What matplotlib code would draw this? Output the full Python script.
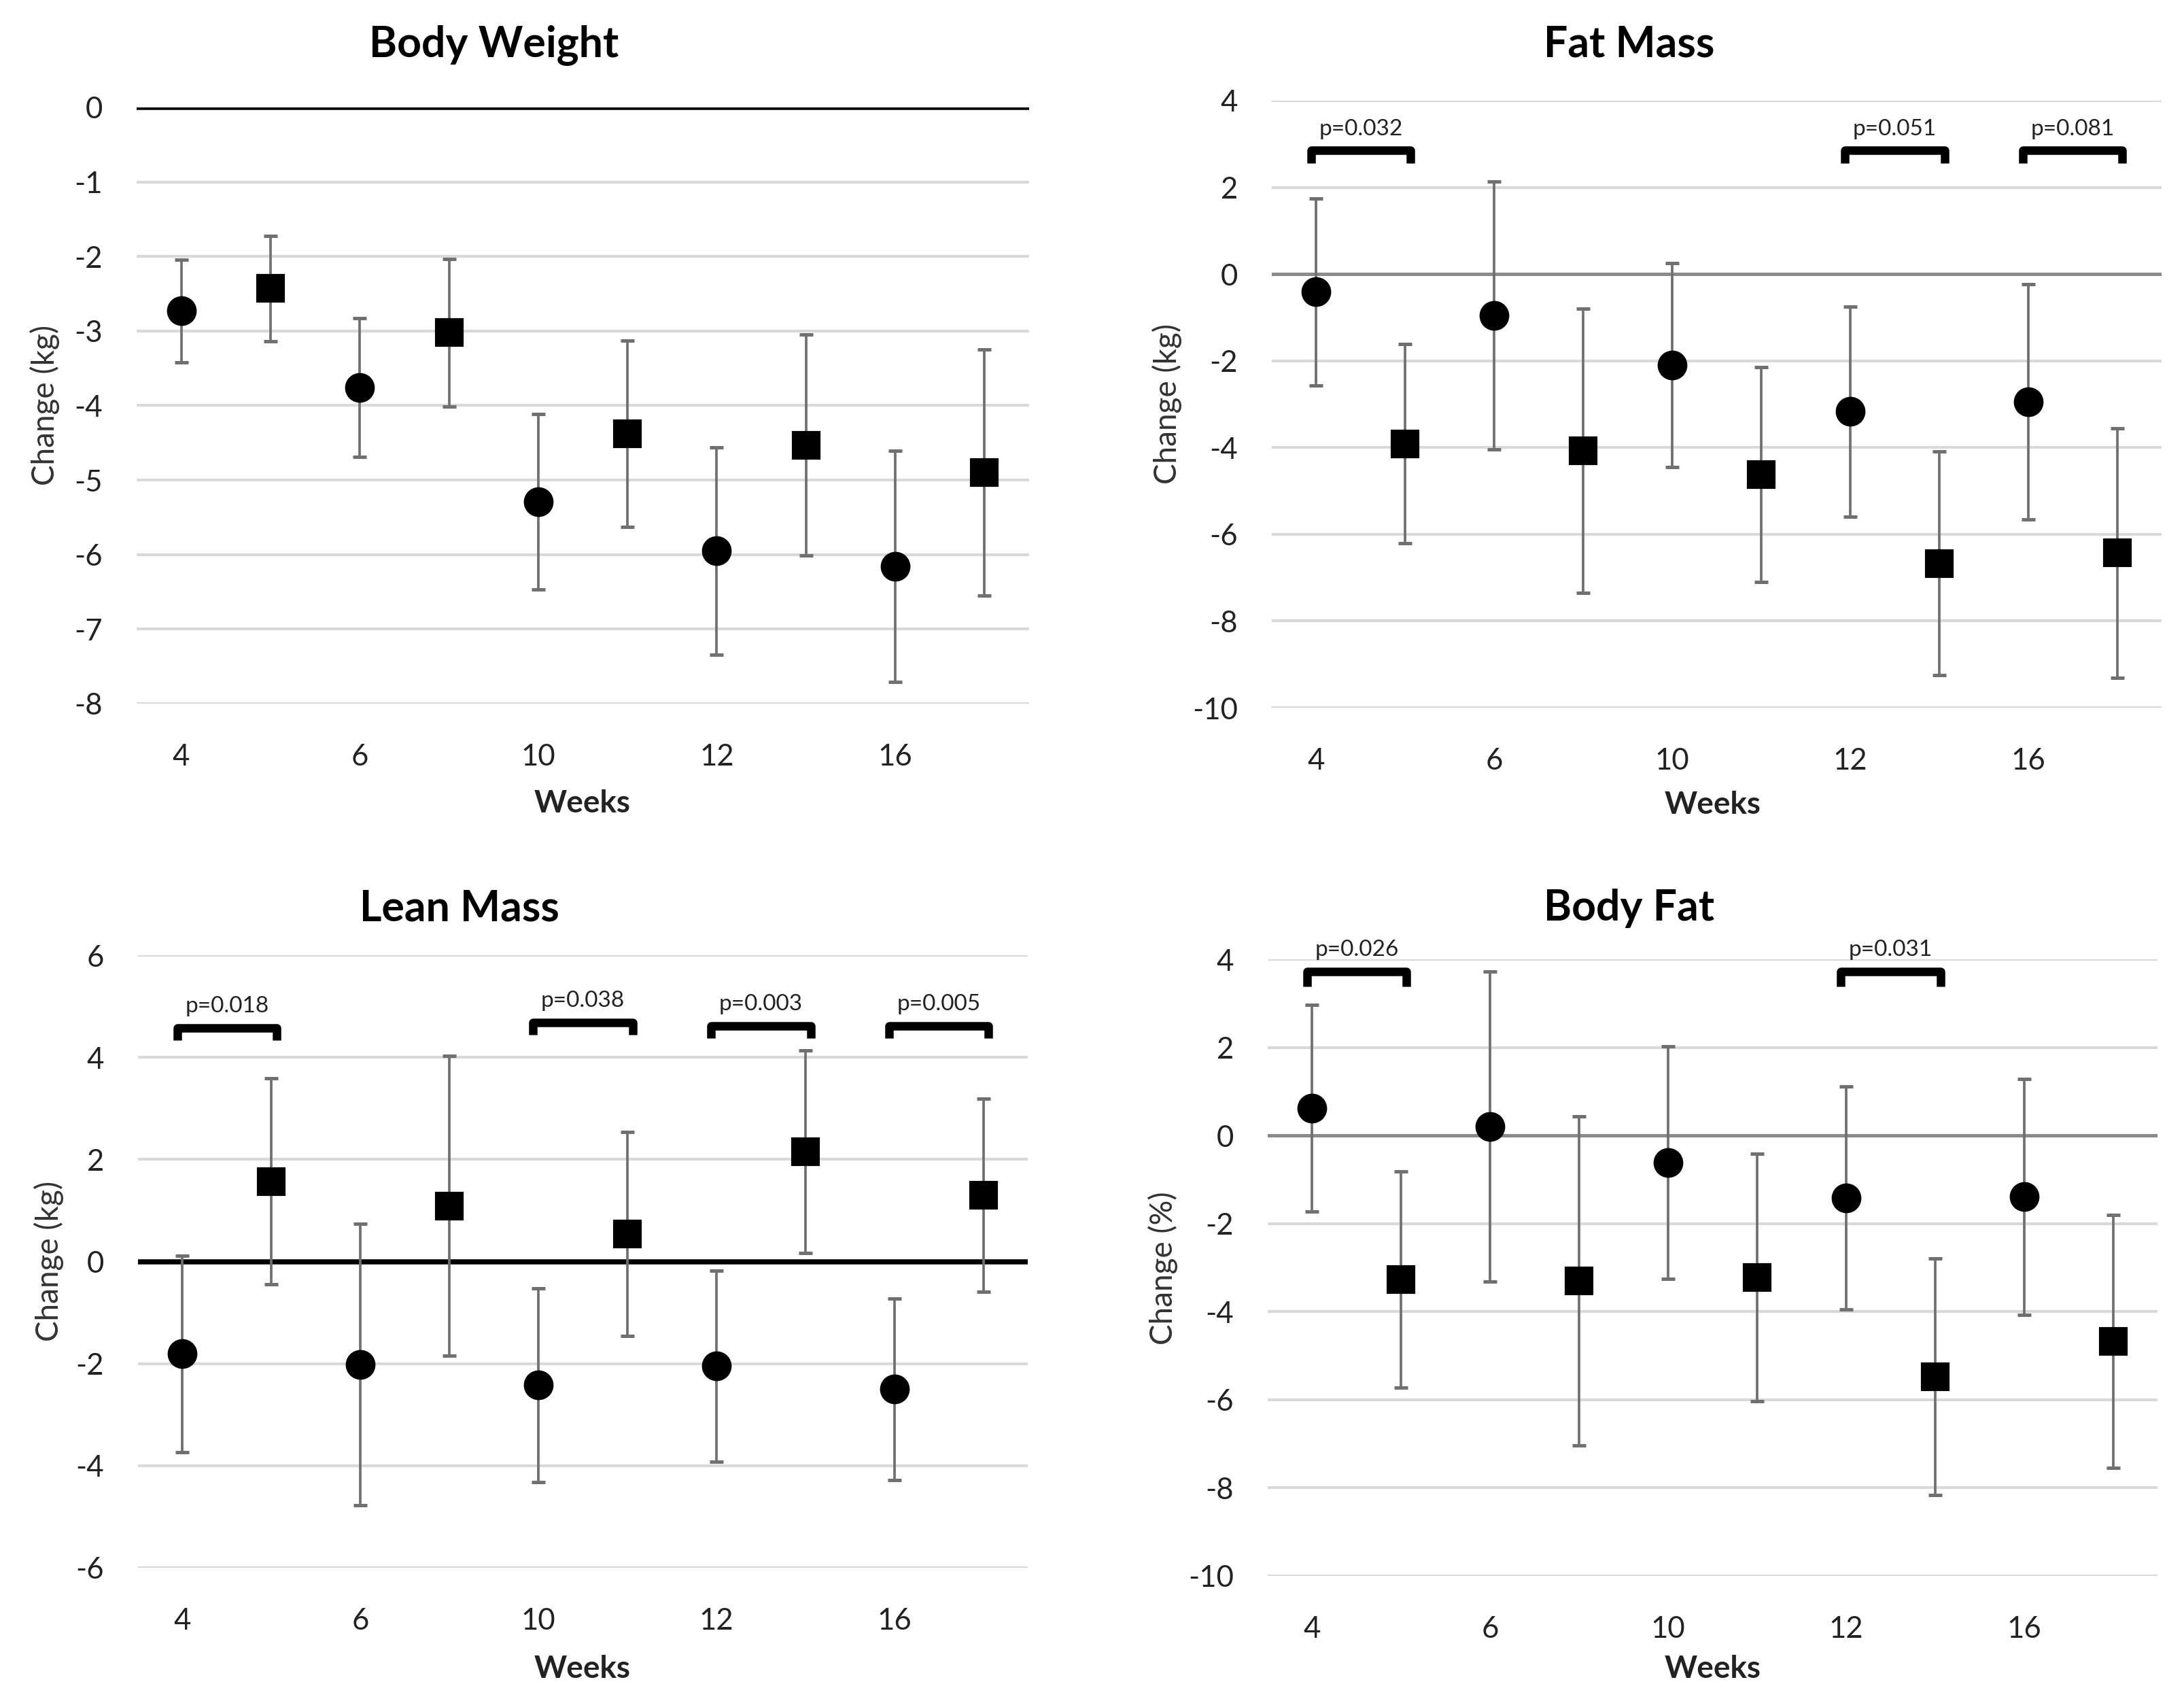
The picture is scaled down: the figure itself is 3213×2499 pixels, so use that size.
import matplotlib.pyplot as plt
import numpy as np

plt.rcParams['font.family'] = ['Lato', 'DejaVu Sans']

weeks = ["4", "6", "10", "12", "16"]

# circle group / square group: means and SD
bw_circle = [-2.73, -3.76, -5.29, -5.95, -6.16]
bw_circle_sd = [0.69, 0.93, 1.18, 1.39, 1.55]
bw_square = [-2.43, -3.02, -4.38, -4.53, -4.90]
bw_square_sd = [0.71, 0.99, 1.25, 1.48, 1.65]

fm_circle = [-0.41, -0.96, -2.10, -3.17, -2.95]
fm_circle_sd = [2.16, 3.09, 2.35, 2.42, 2.71]
fm_square = [-3.91, -4.07, -4.62, -6.67, -6.43]
fm_square_sd = [2.30, 3.28, 2.48, 2.58, 2.88]

lm_circle = [-1.81, -2.02, -2.42, -2.05, -2.50]
lm_circle_sd = [1.92, 2.76, 1.90, 1.87, 1.78]
lm_square = [1.57, 1.09, 0.54, 2.15, 1.30]
lm_square_sd = [2.02, 2.94, 2.00, 1.98, 1.89]

bf_circle = [0.62, 0.20, -0.61, -1.42, -1.39]
bf_circle_sd = [2.34, 3.52, 2.64, 2.53, 2.68]
bf_square = [-3.27, -3.30, -3.22, -5.48, -4.68]
bf_square_sd = [2.46, 3.74, 2.81, 2.69, 2.87]

# significance brackets: (week index, label, bracket height)
fm_pvals = [(0, "p=0.032", 2.85), (3, "p=0.051", 2.85), (4, "p=0.081", 2.85)]
lm_pvals = [(0, "p=0.018", 4.58), (2, "p=0.038", 4.68), (3, "p=0.003", 4.62), (4, "p=0.005", 4.62)]
bf_pvals = [(0, "p=0.026", 3.72), (3, "p=0.031", 3.72)]

W, H = 3213, 2499
fig = plt.figure(figsize=(W / 300, H / 300), dpi=300)


def px_rect(left, right, top, bottom):
    return [left / W, 1 - bottom / H, (right - left) / W, (bottom - top) / H]


def panel(rect, title, title_xy, xlab_xy, ylab_xy, ylabel,
          circ, circ_sd, sq, sq_sd, ylim, ystep, zero_color, zero_lw,
          pvals, bh):
    ax = fig.add_axes(px_rect(*rect))
    xc = np.arange(len(weeks)) * 2
    xs = xc + 1
    ax.set_xlim(-0.5, 9.5)
    ax.set_ylim(*ylim)
    yt = np.arange(ylim[0], ylim[1] + 0.01, ystep)
    ax.set_yticks(yt)
    ax.set_yticklabels([f"{v:g}" for v in yt])
    ax.set_xticks(xc)
    ax.set_xticklabels(weeks)
    ax.tick_params(length=0, labelsize=10.5, colors='#222222')
    ax.tick_params(axis='x', pad=14)
    ax.tick_params(axis='y', pad=12)
    for s in ax.spines.values():
        s.set_visible(False)
    ax.grid(axis='y', color='#d9d9d9', linewidth=1.0)
    ax.set_axisbelow(True)
    ax.axhline(0, color=zero_color, linewidth=zero_lw, zorder=1)
    ax.errorbar(xc, circ, yerr=circ_sd, fmt='o', color='black', ms=9.5,
                ecolor='#707070', elinewidth=0.9, capsize=2.5, capthick=1.2, zorder=3)
    ax.errorbar(xs, sq, yerr=sq_sd, fmt='s', color='black', ms=9.3,
                ecolor='#707070', elinewidth=0.9, capsize=2.5, capthick=1.2, zorder=3)
    for i, lab, yb in pvals:
        x0, x1 = xc[i] - 0.06, xs[i] + 0.06
        ax.plot([x0, x0, x1, x1], [yb - bh, yb, yb, yb - bh], color='black',
                linewidth=3.0, solid_capstyle='butt', solid_joinstyle='round', zorder=4)
        ax.annotate(lab, ((x0 + x1) / 2, yb), xytext=(0, 4), textcoords='offset points',
                    ha='center', va='bottom', fontsize=8, color='#222222')
    fig.text(title_xy[0] / W, 1 - title_xy[1] / H, title, ha='center', va='center',
             fontsize=15, fontweight='bold')
    fig.text(xlab_xy[0] / W, 1 - xlab_xy[1] / H, "Weeks", ha='center', va='center',
             fontsize=11, fontweight='bold', color='#222222')
    fig.text(ylab_xy[0] / W, 1 - ylab_xy[1] / H, ylabel, ha='center', va='center',
             rotation=90, fontsize=11, color='#333333')
    return ax


panel((201, 1514, 158, 1035), "Body Weight", (727, 66), (857, 1182), (66, 596), "Change (kg)",
      bw_circle, bw_circle_sd, bw_square, bw_square_sd, (-8, 0), 1, 'black', 1.8, [], 0)
panel((1871, 3180, 148, 1041), "Fat Mass", (2397, 66), (2520, 1184), (1717, 594), "Change (kg)",
      fm_circle, fm_circle_sd, fm_square, fm_square_sd, (-10, 4), 2, '#8a8a8a', 1.2, fm_pvals, 0.3)
panel((203, 1512, 1405, 2306), "Lean Mass", (676, 1336), (857, 2455), (72, 1855), "Change (kg)",
      lm_circle, lm_circle_sd, lm_square, lm_square_sd, (-6, 6), 2, 'black', 1.8, lm_pvals, 0.24)
panel((1865, 3174, 1411, 2318), "Body Fat", (2397, 1336), (2520, 2455), (1711, 1865), "Change (%)",
      bf_circle, bf_circle_sd, bf_square, bf_square_sd, (-10, 4), 2, '#8a8a8a', 1.2, bf_pvals, 0.34)

fig.savefig("out.png", dpi=300, facecolor='white')
